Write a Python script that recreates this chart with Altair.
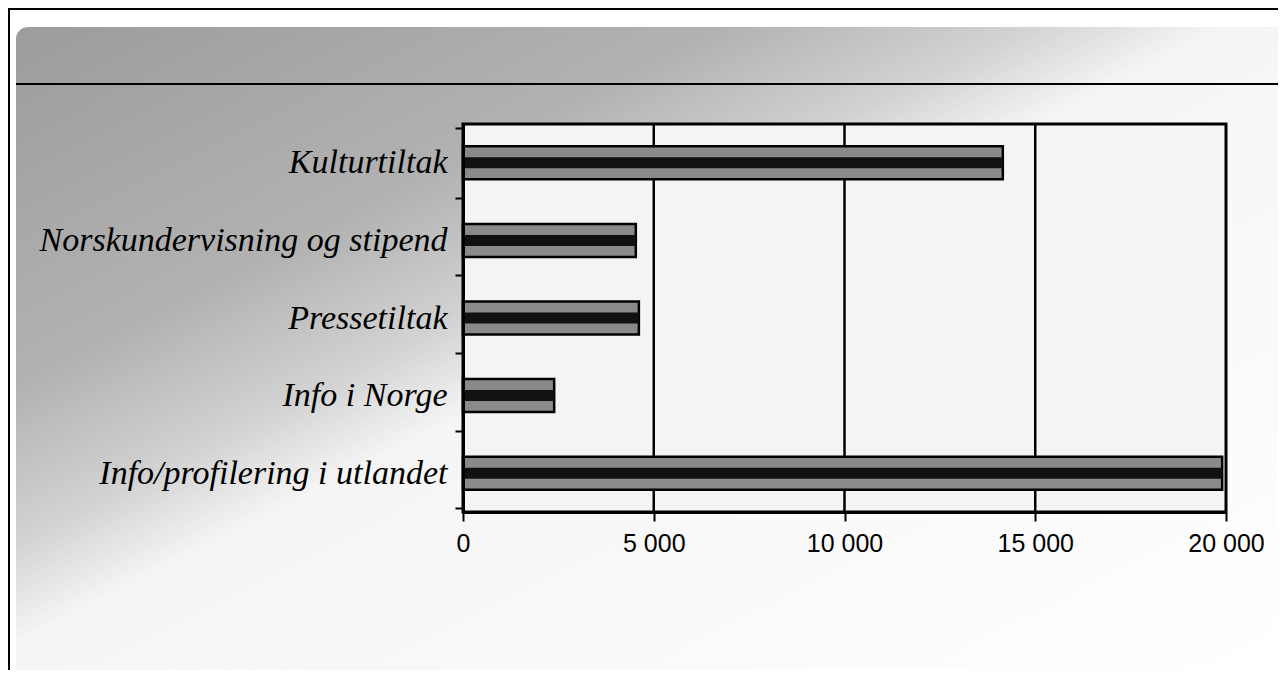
import altair as alt
import pandas as pd

categories = ["Kulturtiltak", "Norskundervisning og stipend", "Pressetiltak",
              "Info i Norge", "Info/profilering i utlandet"]
values = [14150, 4530, 4610, 2390, 19900]
x_ticks = [0, 5000, 10000, 15000, 20000]
grid_values = [5000, 10000, 15000]

df = pd.DataFrame({"kategori": categories, "verdi": values})
grid_df = pd.DataFrame({"verdi": grid_values})
one = pd.DataFrame({"a": [0]})

W, H = 763, 388
PL, PT = 455, 116
TOTAL_W, TOTAL_H = 1270, 662

x_axis = alt.Axis(values=x_ticks, grid=False, title=None, domainColor="black",
                  domainWidth=3, tickColor="black", tickWidth=2, tickSize=9,
                  labelFont="Liberation Sans", labelFontSize=25, labelColor="black",
                  labelPadding=10, labelFlush=False, zindex=2,
                  labelExpr="replace(format(datum.value, ','), ',', ' ')")
x_scale = alt.Scale(domain=[0, 20000], nice=False, zero=True)

bg = alt.Chart(one).mark_rect(
    cornerRadiusTopLeft=12,
    fill=alt.Gradient(
        gradient="linear", x1=0, y1=0, x2=1, y2=1,
        stops=[alt.GradientStop(offset=0, color="#9c9c9c"),
               alt.GradientStop(offset=0.28, color="#b2b2b2"),
               alt.GradientStop(offset=0.4, color="#d2d2d2"),
               alt.GradientStop(offset=0.48, color="#f5f5f5"),
               alt.GradientStop(offset=1, color="#ffffff")]),
).encode(x=alt.value(-447), x2=alt.value(TOTAL_W - PL), y=alt.value(-97),
         y2=alt.value(TOTAL_H - PT))

frame_left = alt.Chart(one).mark_rule(color="black", strokeWidth=2).encode(
    x=alt.value(-454), y=alt.value(-116), y2=alt.value(TOTAL_H - PT))
frame_top = alt.Chart(one).mark_rule(color="black", strokeWidth=2).encode(
    x=alt.value(-454), x2=alt.value(TOTAL_W - PL), y=alt.value(-115))
band_line = alt.Chart(one).mark_rule(color="black", strokeWidth=2).encode(
    x=alt.value(-447), x2=alt.value(TOTAL_W - PL), y=alt.value(-40))

plot_rect = alt.Chart(one).mark_rect(fill="#f4f4f4", stroke="black", strokeWidth=3).encode(
    x=alt.value(0), x2=alt.value(W), y=alt.value(0), y2=alt.value(H))

grid = alt.Chart(grid_df).mark_rule(color="black", strokeWidth=2.5).encode(
    x=alt.X("verdi:Q", scale=x_scale, axis=x_axis))

y_enc = alt.Y("kategori:N", sort=categories, title=None,
              axis=alt.Axis(tickBand="extent", domainColor="black", domainWidth=3,
                            tickColor="black", tickWidth=2, tickSize=8,
                            labelFont="Liberation Serif", labelFontStyle="italic",
                            labelFontSize=34, labelColor="black", labelPadding=8,
                            labelLimit=0, zindex=2))

outer = alt.Chart(df).mark_bar(size=33, fill="#8a8a8a", stroke="black",
                               strokeWidth=2.5).encode(
    x=alt.X("verdi:Q", scale=x_scale, axis=x_axis), y=y_enc)
inner = alt.Chart(df).mark_bar(size=11, fill="#111111").encode(
    x=alt.X("verdi:Q", scale=x_scale, axis=x_axis), y=y_enc)

chart = alt.layer(bg, band_line, frame_left, frame_top, plot_rect, grid, outer, inner).properties(
    width=W, height=H,
    autosize=alt.AutoSizeParams(type="none"),
    padding={"left": PL, "top": PT, "right": TOTAL_W - PL - W, "bottom": TOTAL_H - PT - H},
).configure_view(stroke=None).configure(background="white")

chart.save("out.html", embed_options={"renderer": "svg", "actions": False})
